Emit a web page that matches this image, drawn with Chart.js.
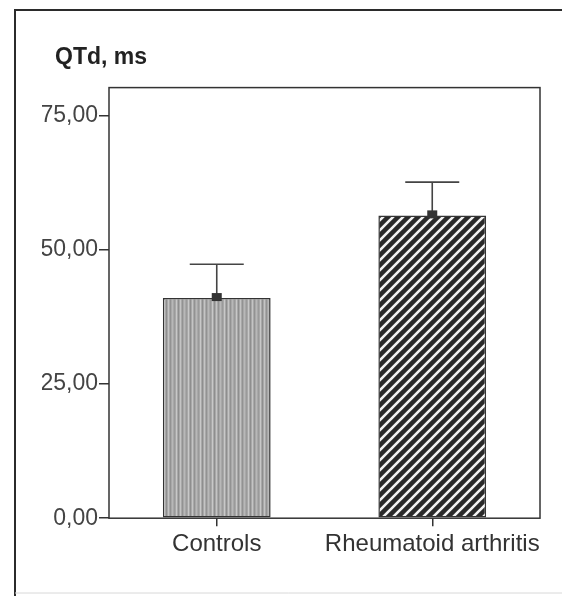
<!DOCTYPE html>
<html>
<head>
<meta charset="utf-8">
<script src="https://cdn.jsdelivr.net/npm/chart.js@4.4.0/dist/chart.umd.min.js"></script>
<style>
  html, body { margin: 0; padding: 0; background: #fff; }
  #wrap { width: 562px; height: 596px; }
</style>
</head>
<body>
<div id="wrap"><canvas id="qtd-chart" width="562" height="596"></canvas></div>
<script>
const groups = ['Controls', 'Rheumatoid arthritis'];
const meanQTd = [41.0, 56.4];
const errorTop = [47.3, 62.6];
const yTicks = [0, 25, 50, 75];

function grainPattern() {
    const c = document.createElement('canvas');
    c.width = 12; c.height = 12;
    const g = c.getContext('2d');
    g.fillStyle = '#a8a8a8';
    g.fillRect(0, 0, 12, 12);
    const shades = ['#c4c4c4', '#929292', '#b8b8b8', '#9a9a9a', '#c8c8c8', '#8e8e8e'];
    for (let i = 0; i < 12; i += 2) {
        g.fillStyle = shades[(i / 2) % shades.length];
        g.fillRect(i, 0, 1, 12);
    }
    return g.createPattern(c, 'repeat');
}

function hatchPattern() {
    const c = document.createElement('canvas');
    c.width = 10; c.height = 10;
    const g = c.getContext('2d');
    g.fillStyle = '#2a2a2a';
    g.fillRect(0, 0, 10, 10);
    g.strokeStyle = '#f4f4f4';
    g.lineWidth = 2.6;
    g.beginPath();
    g.moveTo(-5, 5); g.lineTo(5, -5);
    g.moveTo(-5, 15); g.lineTo(15, -5);
    g.moveTo(5, 15); g.lineTo(15, 5);
    g.stroke();
    return g.createPattern(c, 'repeat');
}

const frame = {
    id: 'frame',
    afterLayout(chart) {
        // title sits a bit right of the tick labels
        chart.titleBlock.left = 55;
    },
    beforeDraw(chart) {
        const ctx = chart.ctx;
        ctx.save();
        ctx.strokeStyle = '#2b2b2b';
        ctx.lineWidth = 2;
        ctx.beginPath();
        ctx.moveTo(562, 10);
        ctx.lineTo(15, 10);
        ctx.lineTo(15, 596);
        ctx.stroke();
        ctx.strokeStyle = '#d8d8d8';
        ctx.lineWidth = 1;
        ctx.beginPath();
        ctx.moveTo(15, 593);
        ctx.lineTo(562, 593);
        ctx.stroke();
        ctx.restore();
    },
    afterDatasetsDraw(chart) {
        const ctx = chart.ctx;
        const a = chart.chartArea;
        const x = chart.scales.x, y = chart.scales.y;
        ctx.save();
        ctx.strokeStyle = '#333';
        ctx.lineWidth = 1.5;
        ctx.strokeRect(a.left, a.top, a.right - a.left, a.bottom - a.top);
        // error bars + mean marker
        meanQTd.forEach((m, i) => {
            const cx = x.getPixelForValue(i);
            const y0 = y.getPixelForValue(m);
            const y1 = y.getPixelForValue(errorTop[i]);
            ctx.strokeStyle = '#444';
            ctx.lineWidth = 1.6;
            ctx.beginPath();
            ctx.moveTo(cx, y0);
            ctx.lineTo(cx, y1);
            ctx.moveTo(cx - 27, y1);
            ctx.lineTo(cx + 27, y1);
            ctx.stroke();
            ctx.fillStyle = '#333';
            ctx.fillRect(cx - 5, y0 - 5, 10, 8);
        });
        ctx.restore();
    }
};

const ctx = document.getElementById('qtd-chart').getContext('2d');
const chart = new Chart(ctx, {
    type: 'bar',
    data: {
        labels: groups,
        datasets: [{
            data: meanQTd,
            backgroundColor: [grainPattern(), hatchPattern()],
            borderColor: '#333',
            borderWidth: 1.5,
            borderSkipped: false,
            barPercentage: 0.5,
            categoryPercentage: 1.0
        }]
    },
    options: {
        responsive: false,
        animation: false,
        layout: { padding: { top: 44, left: 42, right: 22, bottom: 33 } },
        plugins: {
            legend: { display: false },
            tooltip: { enabled: false },
            title: {
                display: true,
                text: 'QTd, ms',
                align: 'start',
                color: '#222',
                font: { family: 'Liberation Sans', size: 23, weight: 'bold' },
                padding: { top: 0, bottom: 16 }
            }
        },
        scales: {
            x: {
                offset: true,
                grid: { display: true, drawOnChartArea: false, drawTicks: true, tickLength: 8, offset: false, color: '#333', lineWidth: 1.5 },
                border: { display: false },
                ticks: { color: '#333', font: { family: 'Liberation Sans', size: 24 }, padding: 4, maxRotation: 0, minRotation: 0, autoSkip: false }
            },
            y: {
                min: 0,
                max: 80.2,
                afterBuildTicks: s => { s.ticks = yTicks.map(v => ({ value: v })); },
                afterFit: s => { s.width = 67; },
                grid: { display: true, drawOnChartArea: false, drawTicks: true, tickLength: 10, color: '#333', lineWidth: 1.5 },
                border: { display: false },
                ticks: {
                    color: '#444',
                    font: { family: 'Liberation Sans', size: 23 },
                    padding: 1,
                    callback: v => v.toFixed(2).replace('.', ',')
                }
            }
        }
    },
    plugins: [frame]
});
</script>
</body>
</html>
